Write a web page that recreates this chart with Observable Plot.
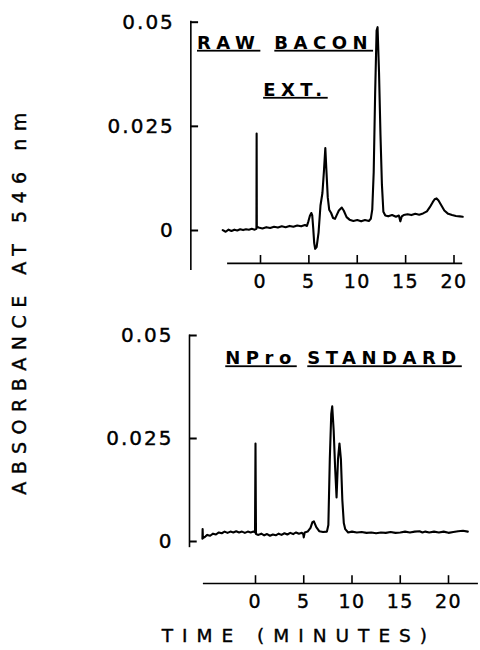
<!DOCTYPE html>
<html><head><meta charset="utf-8">
<script src="https://cdn.jsdelivr.net/npm/d3@7"></script>
<script src="https://cdn.jsdelivr.net/npm/@observablehq/plot@0.6"></script>
<style>
body{margin:0;background:#fff}
#wrap{position:relative;width:480px;height:650px;overflow:hidden;font-family:"DejaVu Sans",sans-serif;color:#000}
#wrap svg{position:absolute;left:0;background:transparent}
#ylab{position:absolute;left:19px;top:300px;transform:translate(-50%,-50%) rotate(-90deg);white-space:nowrap;font-size:19px;letter-spacing:7.5px;-webkit-text-stroke:0.4px #000}
</style></head>
<body>
<div id="wrap"><div id="ylab">ABSORBANCE AT 546 nm</div></div>
<script>
// ---- data ----
const xTicks = [0, 5, 10, 15, 20];
const yTicks = [0, 0.025, 0.05];
const yTickLabels = ["0", "0.025", "0.05"];
const yTitle = "ABSORBANCE AT 546 nm";
const xTitle = "TIME (MINUTES)";

// Raw bacon extract chromatogram: [time (min), absorbance]
const topSeries = [
  [-3.9,0.0001],[-3.6,-0.0003],[-3.3,0.0002],[-3.0,-0.0001],[-2.7,0.0002],[-2.4,0.0000],
  [-2.1,0.0003],[-1.8,0.0001],[-1.5,0.0003],[-1.2,0.0002],[-0.9,0.0004],[-0.6,0.0002],
  [-0.42,0.0004],[-0.4,0.0233],[-0.38,0.0010],[-0.2,0.0007],[0.2,0.0005],[0.6,0.0008],
  [1.0,0.0006],[1.4,0.0009],[1.8,0.0007],[2.2,0.0010],[2.6,0.0008],[3.0,0.0011],
  [3.4,0.0009],[3.8,0.0012],[4.2,0.0010],[4.6,0.0013],[4.8,0.0011],[4.95,0.0022],
  [5.1,0.0035],[5.25,0.0042],[5.35,0.0036],[5.45,0.0005],[5.55,-0.0030],[5.65,-0.0044],
  [5.8,-0.0040],[6.0,-0.0005],[6.2,0.0060],[6.4,0.0090],[6.55,0.0140],[6.7,0.0198],
  [6.8,0.0150],[6.95,0.0080],[7.1,0.0050],[7.3,0.0042],[7.5,0.0030],[7.7,0.0028],
  [7.9,0.0038],[8.1,0.0048],[8.4,0.0055],[8.6,0.0048],[8.9,0.0032],[9.2,0.0026],
  [9.6,0.0023],[10.0,0.0025],[10.4,0.0022],[10.8,0.0025],[11.2,0.0023],[11.4,0.0028],
  [11.55,0.0050],[11.7,0.0140],[11.85,0.0330],[12.0,0.0480],[12.1,0.0488],[12.25,0.0380],
  [12.4,0.0230],[12.55,0.0110],[12.7,0.0045],[12.9,0.0036],[13.2,0.0034],[13.6,0.0037],
  [14.0,0.0033],[14.3,0.0036],[14.45,0.0022],[14.6,0.0034],[14.8,0.0037],[15.2,0.0039],
  [15.6,0.0037],[16.0,0.0040],[16.4,0.0038],[16.8,0.0041],[17.2,0.0046],[17.5,0.0056],
  [17.8,0.0068],[18.0,0.0075],[18.2,0.0077],[18.4,0.0072],[18.7,0.0060],[19.0,0.0048],
  [19.4,0.0040],[19.8,0.0037],[20.2,0.0035],[20.6,0.0034],[20.9,0.0033]
];

// NPro standard chromatogram: [time (min), absorbance]
const bottomSeries = [
  [-5.5,0.0007],[-5.48,0.0030],[-5.45,0.0008],[-5.2,0.0012],[-5.0,0.0016],[-4.7,0.0014],
  [-4.4,0.0019],[-4.1,0.0017],[-3.8,0.0022],[-3.5,0.0020],[-3.2,0.0024],[-2.9,0.0021],
  [-2.6,0.0024],[-2.3,0.0022],[-2.0,0.0025],[-1.7,0.0022],[-1.4,0.0024],[-1.1,0.0021],
  [-0.8,0.0024],[-0.5,0.0022],[-0.2,0.0024],[-0.05,0.0022],[0,0.0238],[0.05,0.0018],
  [0.3,0.0016],[0.6,0.0019],[0.9,0.0015],[1.2,0.0018],[1.5,0.0014],[1.8,0.0017],
  [2.1,0.0015],[2.4,0.0019],[2.7,0.0016],[3.0,0.0020],[3.3,0.0017],[3.6,0.0021],
  [3.9,0.0018],[4.2,0.0022],[4.5,0.0019],[4.8,0.0021],[4.95,0.0018],[5.0,0.0010],
  [5.1,0.0022],[5.4,0.0024],[5.7,0.0033],[5.9,0.0047],[6.05,0.0049],[6.3,0.0035],
  [6.6,0.0025],[7.0,0.0023],[7.4,0.0024],[7.55,0.0040],[7.7,0.0200],[7.85,0.0310],
  [7.95,0.0328],[8.1,0.0270],[8.25,0.0180],[8.4,0.0107],[8.55,0.0200],[8.7,0.0238],
  [8.85,0.0200],[9.0,0.0100],[9.15,0.0045],[9.3,0.0030],[9.6,0.0022],[10.0,0.0024],
  [10.5,0.0022],[11.0,0.0023],[11.5,0.0021],[12.0,0.0022],[12.5,0.0020],[13.0,0.0022],
  [13.5,0.0021],[14.0,0.0023],[14.5,0.0021],[15.0,0.0022],[15.5,0.0024],[16.0,0.0022],
  [16.5,0.0024],[17.0,0.0025],[17.3,0.0022],[17.6,0.0024],[18.0,0.0022],[18.5,0.0024],
  [19.0,0.0022],[19.5,0.0024],[20.0,0.0021],[20.5,0.0023],[21.0,0.0025],[21.5,0.0026],
  [22.0,0.0024]
];

// floating axes extents (data units)
const topYAxis = {x: -7.2, y1: -0.0096, y2: 0.0502};
const topXAxis = {y: -0.0079, x1: -3.4, x2: 20.9};
const botYAxis = {x: -6.84, y1: -0.0015, y2: 0.0501};
const botXAxis = {y: -0.0102, x1: -5.4, x2: 23.1};

const topLabels = [
  {text: "RAW", x: -3.6, y: 0.0450},
  {text: "BACON", x: 6.22, y: 0.0450},
  {text: "EXT.", x: 3.3, y: 0.0337}
];
const botLabels = [
  {text: "NPro", x: 0.26, y: 0.0444},
  {text: "STANDARD", x: 13.06, y: 0.0444}
];
const panelWords = ["RAW", "BACON", "EXT.", "NPro", "STANDARD"];

function panel(series, yAx, xAx, labels, xRange, yRange, height, extra) {
  return Plot.plot({
    width: 480, height, margin: 0,
    x: {domain: [0, 20], range: xRange, axis: null},
    y: {domain: [0, 0.05], range: yRange, axis: null},
    style: {fontFamily: "DejaVu Sans, sans-serif", background: "transparent", overflow: "visible", color: "#000"},
    marks: [
      Plot.ruleX([yAx.x], {y1: yAx.y1, y2: yAx.y2, stroke: "#000", strokeWidth: 1.6}),
      Plot.ruleY(yTicks, {y: d => d, x1: yAx.x, x2: yAx.x + 0.8, stroke: "#000", strokeWidth: 2}),
      Plot.text(yTicks, {x: yAx.x, y: d => d, text: (d, i) => yTickLabels[i], textAnchor: "end", dx: -16, fontSize: 20}),
      Plot.ruleY([xAx.y], {x1: xAx.x1, x2: xAx.x2, stroke: "#000", strokeWidth: 1.6}),
      Plot.ruleX(xTicks, {x: d => d, y1: xAx.y, y2: xAx.y + 0.0019, stroke: "#000", strokeWidth: 1.6}),
      Plot.text(xTicks, {x: d => d, y: xAx.y, dy: 18, text: d => String(d), fontSize: 19}),
      Plot.line(series, {x: d => d[0], y: d => d[1], stroke: "#000", strokeWidth: 2.1, strokeLinejoin: "round"}),
      Plot.text(labels, {x: "x", y: "y", text: "text", fontSize: 18, fontWeight: "bold", dx: 3}),
      ...(extra || [])
    ]
  });
}

const wrap = document.getElementById("wrap");
const topSvg = panel(topSeries, topYAxis, topXAxis, topLabels, [260, 453.5], [230, 21.7], 310);
topSvg.style.top = "0px";
const botSvg = panel(bottomSeries, botYAxis, botXAxis, botLabels, [255, 448], [231, 25], 340, [
  Plot.text([xTitle], {x: 4.5, y: -0.0229, text: d => d, fontSize: 18.5})
]);
botSvg.style.top = "310px";
wrap.appendChild(topSvg);
wrap.appendChild(botSvg);

for (const svg of [topSvg, botSvg]) {
  d3.select(svg).selectAll("text").each(function() {
    const t = this.textContent;
    const el = d3.select(this);
    if (panelWords.includes(t)) {
      el.style("letter-spacing", "5.5px")
        .style("text-decoration", "underline")
        .style("text-decoration-thickness", "2px")
        .style("text-underline-offset", "4px");
    } else if (yTickLabels.includes(t)) {
      el.style("letter-spacing", "2px").style("stroke", "#000").style("stroke-width", "0.4px");
    } else if (t === xTitle) {
      el.style("letter-spacing", "9px").style("stroke", "#000").style("stroke-width", "0.4px");
    } else {
      el.style("letter-spacing", "1.5px").style("stroke", "#000").style("stroke-width", "0.4px");
    }
  });
}
</script>
</body></html>
